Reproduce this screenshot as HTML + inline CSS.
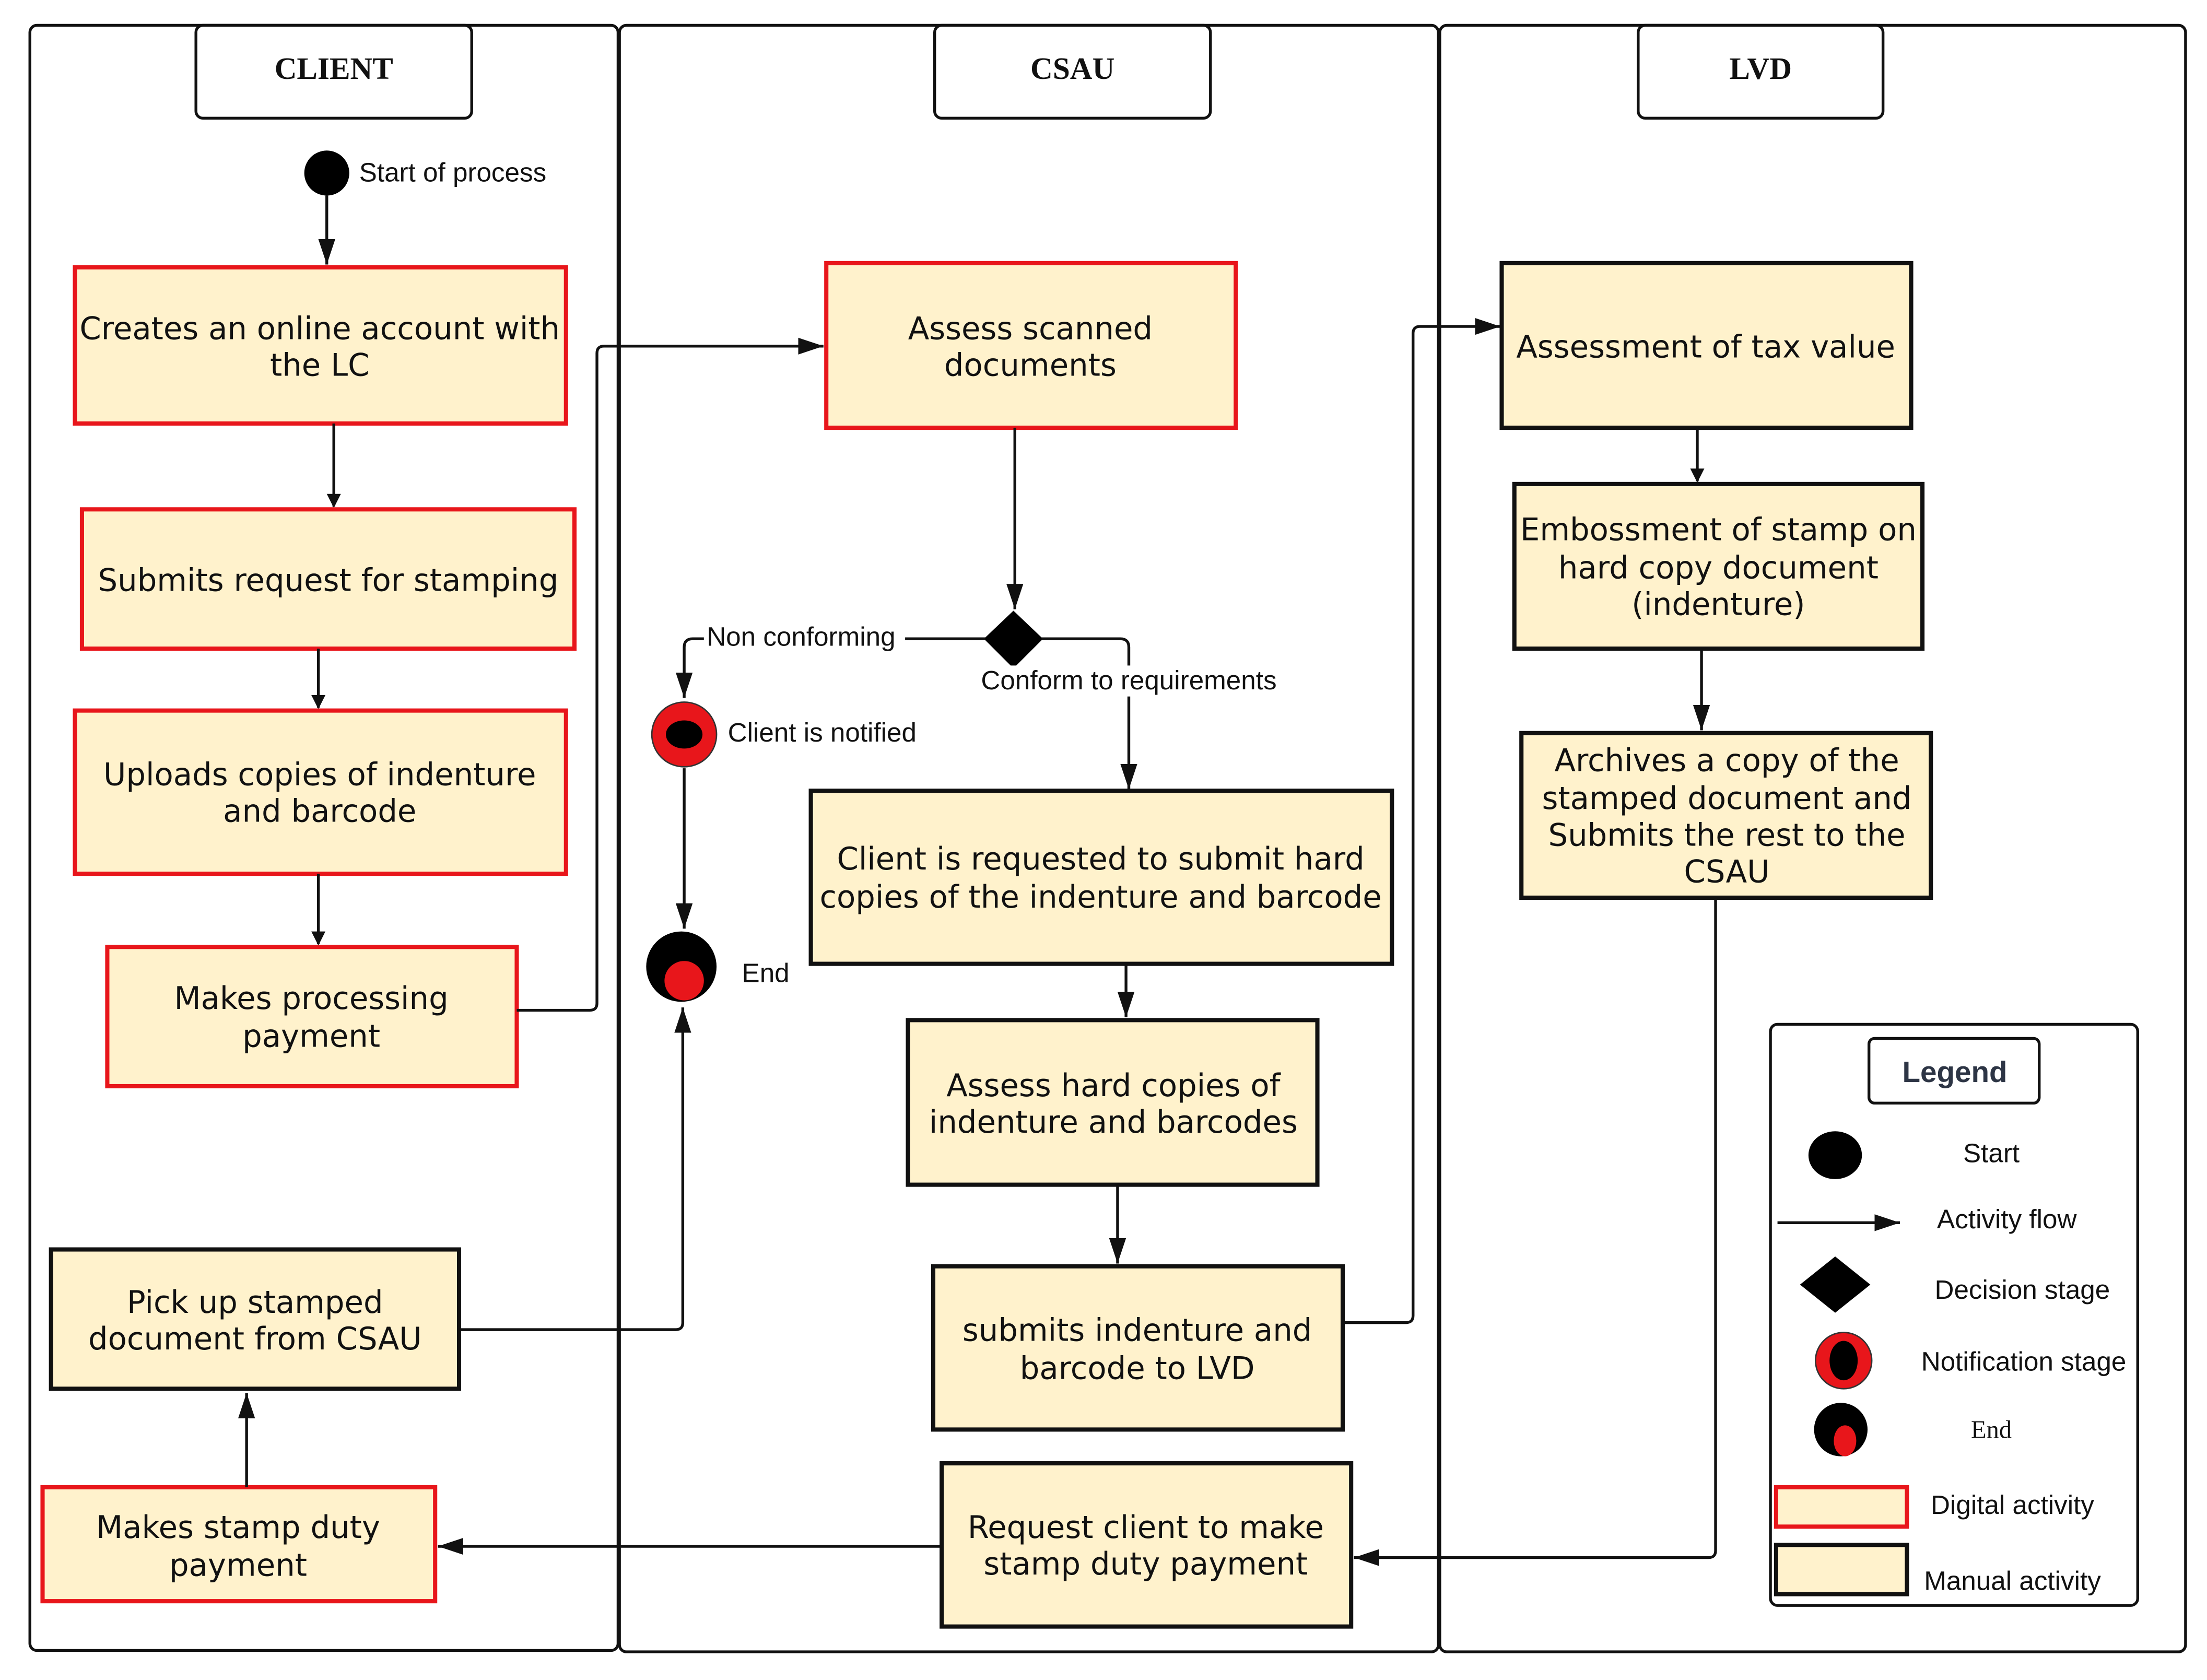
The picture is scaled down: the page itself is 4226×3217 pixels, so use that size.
<!DOCTYPE html>
<html><head><meta charset="utf-8"><style>
html,body{margin:0;padding:0;background:#fff;}
svg{display:block;}
.b{font-family:"DejaVu Sans",sans-serif;font-size:22px;fill:#111;text-anchor:middle;}
.s{font-family:"Liberation Sans",sans-serif;font-size:19px;fill:#111;}
.h{font-family:"Liberation Serif",serif;font-size:22px;font-weight:bold;fill:#111;text-anchor:middle;}
.red{fill:#fff2cc;stroke:#e8161b;stroke-width:3;}
.blk{fill:#fff2cc;stroke:#111;stroke-width:3;}
.ln{fill:none;stroke:#111;stroke-width:2;}
</style></head><body>
<svg width="4226" height="3217" viewBox="0 0 1568 1194" xmlns="http://www.w3.org/2000/svg">
<defs><marker id="a" markerWidth="10" markerHeight="10" refX="9" refY="5" orient="auto" markerUnits="userSpaceOnUse" viewBox="0 0 10 10"><path d="M0,0 L10,5 L0,10 z" fill="#111"/></marker>
<marker id="A" markerWidth="18" markerHeight="12" refX="18" refY="6" orient="auto" markerUnits="userSpaceOnUse"><path d="M0,0 L18,6 L0,12 z" fill="#111"/></marker></defs>
<rect width="1568" height="1194" fill="#fff"/>
<rect x="21" y="18" width="418" height="1155" rx="5" fill="none" stroke="#111" stroke-width="2"/>
<rect x="440" y="18" width="582" height="1156" rx="5" fill="none" stroke="#111" stroke-width="2"/>
<rect x="1023" y="18" width="530" height="1156" rx="5" fill="none" stroke="#111" stroke-width="2"/>
<rect x="139" y="18" width="196" height="66" rx="5" fill="#fff" stroke="#111" stroke-width="2"/>
<rect x="664" y="18" width="196" height="66" rx="5" fill="#fff" stroke="#111" stroke-width="2"/>
<rect x="1164" y="18" width="174" height="66" rx="5" fill="#fff" stroke="#111" stroke-width="2"/>
<text class="h" x="237" y="56">CLIENT</text>
<text class="h" x="762" y="56">CSAU</text>
<text class="h" x="1251" y="56">LVD</text>

<circle cx="232" cy="123" r="16" fill="#000"/>
<text class="s" x="255" y="129">Start of process</text>
<line class="ln" x1="232" y1="139" x2="232" y2="188" marker-end="url(#A)"/>
<rect class="red" x="53" y="190" width="349" height="111"/>
<text class="b" x="227" y="241">Creates an online account with</text>
<text class="b" x="227" y="267">the LC</text>
<line class="ln" x1="237" y1="301" x2="237" y2="360" marker-end="url(#a)"/>
<rect class="red" x="58" y="362" width="350" height="99"/>
<text class="b" x="233" y="420">Submits request for stamping</text>
<line class="ln" x1="226" y1="461" x2="226" y2="503" marker-end="url(#a)"/>
<rect class="red" x="53" y="505" width="349" height="116"/>
<text class="b" x="227" y="558">Uploads copies of indenture</text>
<text class="b" x="227" y="584">and barcode</text>
<line class="ln" x1="226" y1="621" x2="226" y2="671" marker-end="url(#a)"/>
<rect class="red" x="76" y="673" width="291" height="99"/>
<text class="b" x="221" y="717">Makes processing</text>
<text class="b" x="221" y="744">payment</text>
<path class="ln" d="M367,718 H419 Q424,718 424,713 V251 Q424,246 429,246 H585" marker-end="url(#A)"/>

<rect class="blk" x="36" y="888" width="290" height="99"/>
<text class="b" x="181" y="933">Pick up stamped</text>
<text class="b" x="181" y="959">document from CSAU</text>
<path class="ln" d="M326,945 H480 Q485,945 485,940 V716" marker-end="url(#A)"/>
<rect class="red" x="30" y="1057" width="279" height="81"/>
<text class="b" x="169" y="1093">Makes stamp duty</text>
<text class="b" x="169" y="1120">payment</text>
<line class="ln" x1="175" y1="1057" x2="175" y2="990" marker-end="url(#A)"/>

<rect class="red" x="587" y="187" width="291" height="117"/>
<text class="b" x="732" y="241">Assess scanned</text>
<text class="b" x="732" y="267">documents</text>
<line class="ln" x1="721" y1="304" x2="721" y2="433" marker-end="url(#A)"/>
<path d="M720,434 L741,454 L720,475 L699,454 z" fill="#000"/>
<path class="ln" d="M700,454 H492 Q486,454 486,460 V496" marker-end="url(#A)"/>
<rect x="500" y="441" width="143" height="22" fill="#fff"/>
<text class="s" x="502" y="459">Non  conforming</text>
<path class="ln" d="M740,454 H796 Q802,454 802,460 V561" marker-end="url(#A)"/>
<rect x="692" y="473" width="220" height="22" fill="#fff"/>
<text class="s" x="802" y="490" text-anchor="middle">Conform to requirements</text>
<circle cx="486" cy="522" r="23" fill="#e8161b" stroke="#333" stroke-width="1"/>
<ellipse cx="486" cy="522" rx="13" ry="10" fill="#000"/>
<text class="s" x="517" y="527">Client is notified</text>
<line class="ln" x1="486" y1="546" x2="486" y2="660" marker-end="url(#A)"/>
<circle cx="484" cy="687" r="25" fill="#000"/>
<circle cx="486" cy="697" r="14" fill="#e8161b"/>
<text class="s" x="527" y="698">End</text>

<rect class="blk" x="576" y="562" width="413" height="123"/>
<text class="b" x="782" y="618">Client is requested to submit hard</text>
<text class="b" x="782" y="645">copies of the indenture and barcode</text>
<line class="ln" x1="800" y1="685" x2="800" y2="723" marker-end="url(#A)"/>
<rect class="blk" x="645" y="725" width="291" height="117"/>
<text class="b" x="791" y="779">Assess hard copies of</text>
<text class="b" x="791" y="805">indenture and barcodes</text>
<line class="ln" x1="794" y1="842" x2="794" y2="898" marker-end="url(#A)"/>
<rect class="blk" x="663" y="900" width="291" height="116"/>
<text class="b" x="808" y="953">submits indenture and</text>
<text class="b" x="808" y="980">barcode to LVD</text>
<path class="ln" d="M954,940 H999 Q1004,940 1004,935 V237 Q1004,232 1009,232 H1066" marker-end="url(#A)"/>
<rect class="blk" x="669" y="1040" width="291" height="116"/>
<text class="b" x="814" y="1093">Request client to make</text>
<text class="b" x="814" y="1119">stamp duty payment</text>
<line class="ln" x1="669" y1="1099" x2="311" y2="1099" marker-end="url(#A)"/>

<rect class="blk" x="1067" y="187" width="291" height="117"/>
<text class="b" x="1212" y="254">Assessment of tax value</text>
<line class="ln" x1="1206" y1="304" x2="1206" y2="342" marker-end="url(#a)"/>
<rect class="blk" x="1076" y="344" width="290" height="117"/>
<text class="b" x="1221" y="384">Embossment of stamp on</text>
<text class="b" x="1221" y="411">hard copy document</text>
<text class="b" x="1221" y="437">(indenture)</text>
<line class="ln" x1="1209" y1="461" x2="1209" y2="519" marker-end="url(#A)"/>
<rect class="blk" x="1081" y="521" width="291" height="117"/>
<text class="b" x="1227" y="548">Archives a copy of the</text>
<text class="b" x="1227" y="575">stamped document and</text>
<text class="b" x="1227" y="601">Submits the rest to the</text>
<text class="b" x="1227" y="627">CSAU</text>
<path class="ln" d="M1219,638 V1102 Q1219,1107 1214,1107 H962" marker-end="url(#A)"/>

<rect x="1258" y="728" width="261" height="413" rx="5" fill="#fff" stroke="#111" stroke-width="2"/>
<rect x="1328" y="738" width="121" height="46" rx="4" fill="#fff" stroke="#111" stroke-width="2"/>
<text x="1389" y="769" text-anchor="middle" style="font-family:'Liberation Sans',sans-serif;font-size:21px;font-weight:bold;fill:#2d3545">Legend</text>
<ellipse cx="1304" cy="821" rx="19" ry="17" fill="#000"/>
<text class="s" x="1415" y="826" text-anchor="middle">Start</text>
<line class="ln" x1="1263" y1="869" x2="1350" y2="869" marker-end="url(#A)"/>
<text class="s" x="1426" y="873" text-anchor="middle">Activity flow</text>
<path d="M1304,893 L1329,913 L1304,933 L1279,913 z" fill="#000"/>
<text class="s" x="1437" y="923" text-anchor="middle">Decision stage</text>
<circle cx="1310" cy="967" r="20" fill="#e8161b" stroke="#333" stroke-width="1"/>
<ellipse cx="1310" cy="967" rx="10" ry="14" fill="#000"/>
<text class="s" x="1438" y="974" text-anchor="middle">Notification stage</text>
<circle cx="1308" cy="1016" r="19" fill="#000"/>
<ellipse cx="1311" cy="1024" rx="8" ry="11" fill="#e8161b"/>
<text x="1415" y="1022" text-anchor="middle" style="font-family:'Liberation Serif',serif;font-size:18px;fill:#111">End</text>
<rect class="red" x="1262" y="1057" width="93" height="28"/>
<text class="s" x="1430" y="1076" text-anchor="middle">Digital activity</text>
<rect class="blk" x="1262" y="1098" width="93" height="35"/>
<text class="s" x="1430" y="1130" text-anchor="middle">Manual activity</text>
</svg>
</body></html>
